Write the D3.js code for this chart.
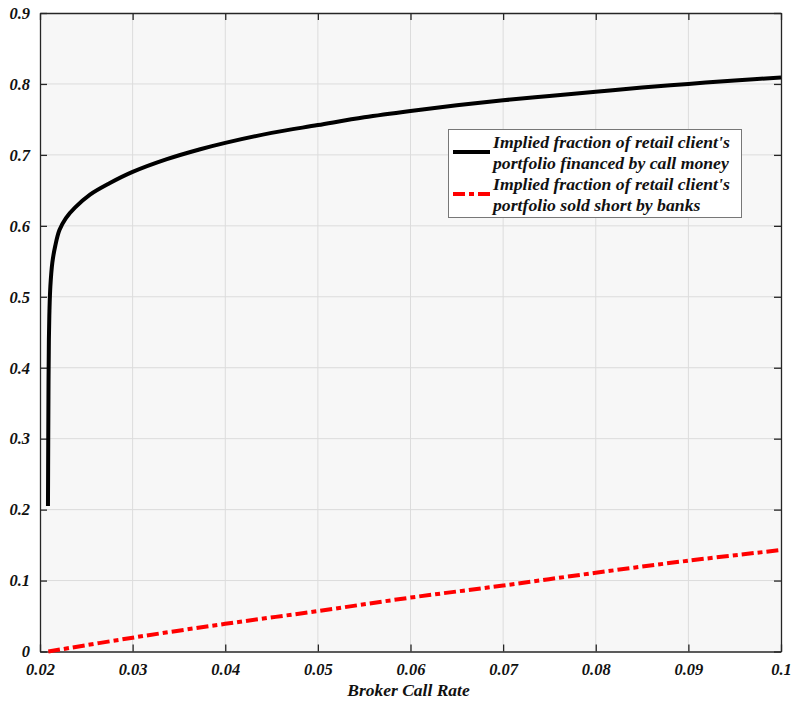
<!DOCTYPE html>
<html><head><meta charset="utf-8">
<script src="https://cdn.jsdelivr.net/npm/d3@7"></script>
<style>body{margin:0;background:#fff}svg text{font-family:'Liberation Serif','Times New Roman',Times,'DejaVu Serif',serif;font-weight:bold;font-style:italic}</style>
</head><body><svg id="c" width="792" height="702"></svg>
<script>
const xTicks = [0.02,0.03,0.04,0.05,0.06,0.07,0.08,0.09,0.1];
const xTickLabels = ["0.02","0.03","0.04","0.05","0.06","0.07","0.08","0.09","0.1"];
const yTicks = [0,0.1,0.2,0.3,0.4,0.5,0.6,0.7,0.8,0.9];
const yTickLabels = ["0","0.1","0.2","0.3","0.4","0.5","0.6","0.7","0.8","0.9"];
const callX = [0.02086,0.02089,0.02092,0.02096,0.02102,0.02112,0.02133,0.02165,0.0221,0.0228,0.0238,0.0254,0.0275,0.03,0.0337,0.0373,0.04,0.045,0.05,0.055,0.06,0.065,0.07,0.075,0.08,0.085,0.09,0.095,0.1];
const callY = [0.205,0.30,0.38,0.44,0.48,0.515,0.548,0.572,0.594,0.611,0.626,0.644,0.660,0.676,0.694,0.708,0.717,0.731,0.742,0.753,0.762,0.770,0.777,0.783,0.789,0.795,0.800,0.805,0.809];
const shortX = [0.0209,0.03,0.04,0.05,0.06,0.07,0.08,0.09,0.1];
const shortY = [0,0.0195,0.039,0.057,0.076,0.093,0.111,0.128,0.143];
const legendLabels = [["Implied fraction of retail client's","portfolio financed by call money"],["Implied fraction of retail client's","portfolio sold short by banks"]];
const xLabel = "Broker Call Rate";

const FONT = "'Liberation Serif','Times New Roman',Times,'DejaVu Serif',serif";
const svg = d3.select("#c");
const L=40,R=781,T=13,B=651.5;
const x = d3.scaleLinear().domain([0.02,0.1]).range([L,R]);
const y = d3.scaleLinear().domain([0,0.9]).range([B,T]);

svg.append("rect").attr("x",L).attr("y",T).attr("width",R-L).attr("height",B-T).attr("fill","#f7f7f7");
svg.append("g").selectAll("line").data(xTicks.slice(1,-1)).join("line")
  .attr("x1",d=>x(d)).attr("x2",d=>x(d)).attr("y1",T).attr("y2",B).attr("stroke","#dcdcdc").attr("stroke-width",1);
svg.append("g").selectAll("line").data(yTicks.slice(1,-1)).join("line")
  .attr("x1",L).attr("x2",R).attr("y1",d=>y(d)).attr("y2",d=>y(d)).attr("stroke","#dcdcdc").attr("stroke-width",1);

const ax = svg.append("g").attr("transform",`translate(0,${B})`).call(d3.axisBottom(x).tickValues(xTicks).tickFormat((d,i)=>xTickLabels[i]).tickSizeInner(-7).tickSizeOuter(0).tickPadding(12));
const axT = svg.append("g").attr("transform",`translate(0,${T})`).call(d3.axisTop(x).tickValues(xTicks).tickFormat("").tickSizeInner(-7).tickSizeOuter(0));
const ay = svg.append("g").attr("transform",`translate(${L},0)`).call(d3.axisLeft(y).tickValues(yTicks).tickFormat((d,i)=>yTickLabels[i]).tickSizeInner(-7).tickSizeOuter(0).tickPadding(10));
const ayR = svg.append("g").attr("transform",`translate(${R},0)`).call(d3.axisRight(y).tickValues(yTicks).tickFormat("").tickSizeInner(-7).tickSizeOuter(0));
[ax,axT,ay,ayR].forEach(g=>{g.attr("font-family",null).attr("font-size",null);g.selectAll("path").attr("stroke","#262626").attr("stroke-width",1.3);g.selectAll("line").attr("stroke","#262626").attr("stroke-width",1.3);g.selectAll("text").attr("fill","#111").style("font-size","16.5px").style("font-family",FONT).style("font-weight","bold").style("font-style","italic");});
ax.selectAll("text").attr("dy","0.71em");

const line = d3.line().x(d=>x(d[0])).y(d=>y(d[1])).curve(d3.curveCatmullRom.alpha(0.5));
svg.append("path").datum(callX.map((v,i)=>[v,callY[i]])).attr("d",line).attr("fill","none").attr("stroke","#000").attr("stroke-width",4);
svg.append("path").datum(shortX.map((v,i)=>[v,shortY[i]])).attr("d",line).attr("fill","none").attr("stroke","#ff0000").attr("stroke-width",4).attr("stroke-dasharray","12,4,5,4");

svg.append("text").attr("x",(L+R)/2 - 2).attr("y",696).attr("text-anchor","middle").style("font-size","17.5px").style("font-family",FONT).attr("fill","#111").text(xLabel);

const lg = svg.append("g");
lg.append("rect").attr("x",448.5).attr("y",129.5).attr("width",293).attr("height",88).attr("fill","#fff").attr("stroke","#777").attr("stroke-width",1);
const colors=["#000","#ff0000"], dashes=[null,"12,4,5,4"], ly=[152,194];
legendLabels.forEach((lab,i)=>{
  lg.append("line").attr("x1",453).attr("x2",490).attr("y1",ly[i]).attr("y2",ly[i]).attr("stroke",colors[i]).attr("stroke-width",4).attr("stroke-dasharray",dashes[i]);
  const t = lg.append("text").attr("x",493).attr("y",ly[i]-4).style("font-size","17.7px").style("font-family",FONT).attr("fill","#111");
  lab.forEach((s,j)=>t.append("tspan").attr("x",493).attr("dy",j?20.5:0).text(s));
});
</script></body></html>
